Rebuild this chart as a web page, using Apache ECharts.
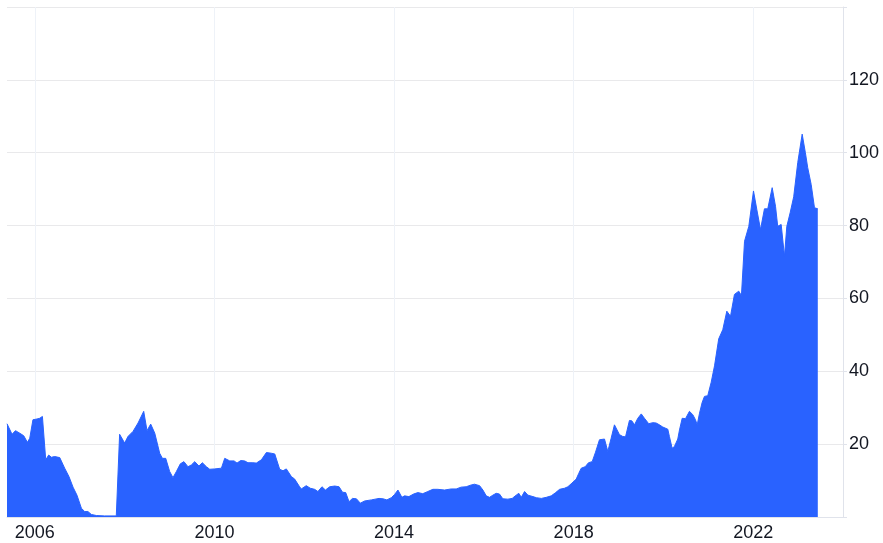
<!DOCTYPE html>
<html>
<head>
<meta charset="utf-8">
<script src="https://cdn.jsdelivr.net/npm/echarts@6/dist/echarts.min.js"></script>
<style>
  html, body { margin: 0; padding: 0; background: #fff; }
  #chart { width: 883px; height: 543px; }
</style>
</head>
<body>
<div id="chart"></div>
<script>
const dates = [
  '2005-05-20', '2005-06-03', '2005-06-30', '2005-07-28', '2005-09-01', '2005-10-03', '2005-11-02', '2005-11-21', '2005-12-17',
  '2006-01-19', '2006-02-10', '2006-03-04', '2006-03-17', '2006-03-31', '2006-04-24', '2006-05-16', '2006-06-12', '2006-07-23',
  '2006-08-05', '2006-09-01', '2006-10-06', '2006-11-08', '2006-12-10',
  '2007-01-15', '2007-02-11', '2007-03-09', '2007-04-06', '2007-05-17', '2007-07-23', '2007-10-26', '2007-11-22', '2007-12-06',
  '2008-01-02', '2008-01-29', '2008-03-10', '2008-04-20', '2008-06-05', '2008-07-02', '2008-08-01', '2008-09-03', '2008-10-13',
  '2008-11-04', '2008-12-01',
  '2009-01-02', '2009-01-29', '2009-02-26', '2009-03-30', '2009-04-28', '2009-05-31', '2009-06-28', '2009-07-25', '2009-08-28',
  '2009-09-25', '2009-10-28', '2009-11-24',
  '2010-01-03', '2010-02-27', '2010-03-26', '2010-05-06', '2010-06-10', '2010-07-04', '2010-08-03', '2010-09-04', '2010-10-01',
  '2010-11-10', '2010-12-08',
  '2011-01-18', '2011-02-28', '2011-04-10', '2011-05-07', '2011-06-16', '2011-07-13', '2011-08-09', '2011-09-19', '2011-10-16',
  '2011-11-25', '2011-12-09',
  '2012-01-18', '2012-02-20', '2012-03-26', '2012-04-22', '2012-05-25', '2012-06-22', '2012-07-27', '2012-09-06', '2012-10-11',
  '2012-11-08', '2012-12-04', '2012-12-31',
  '2013-01-28', '2013-03-01', '2013-04-02', '2013-05-07', '2013-07-01', '2013-09-01', '2013-10-03', '2013-11-04', '2013-12-10',
  '2014-01-06', '2014-02-02', '2014-03-06', '2014-03-28', '2014-05-02', '2014-06-09', '2014-07-14', '2014-08-23', '2014-10-03',
  '2014-11-13', '2014-12-23',
  '2015-02-16', '2015-04-11', '2015-05-22', '2015-07-01', '2015-08-11', '2015-09-21', '2015-10-18', '2015-11-28', '2015-12-25',
  '2016-01-21', '2016-02-17', '2016-03-15', '2016-04-11', '2016-05-08', '2016-06-04', '2016-07-15', '2016-08-19', '2016-09-21',
  '2016-10-12', '2016-11-01', '2016-11-28', '2016-12-25',
  '2017-02-04', '2017-03-04', '2017-04-13', '2017-05-24', '2017-07-03', '2017-08-08', '2017-09-09', '2017-10-19', '2017-11-15',
  '2017-12-18',
  '2018-01-22', '2018-02-12', '2018-03-04', '2018-04-05', '2018-05-02', '2018-06-01', '2018-06-28', '2018-07-30', '2018-09-09',
  '2018-10-06', '2018-11-02', '2018-11-29', '2018-12-13',
  '2019-01-09', '2019-02-05', '2019-02-27', '2019-03-31', '2019-04-19', '2019-05-11', '2019-06-07', '2019-07-05', '2019-07-31',
  '2019-09-04', '2019-10-07', '2019-11-03', '2019-11-30', '2019-12-27',
  '2020-02-06', '2020-02-19', '2020-03-12', '2020-03-30', '2020-04-27', '2020-05-11', '2020-06-02', '2020-06-29', '2020-07-31',
  '2020-08-27', '2020-09-18', '2020-10-02', '2020-10-21', '2020-11-11', '2020-11-30', '2020-12-27',
  '2021-01-24', '2021-02-20', '2021-03-26', '2021-04-28', '2021-05-31', '2021-06-30', '2021-08-01', '2021-09-05', '2021-09-27',
  '2021-10-22', '2021-11-26',
  '2022-01-03', '2022-01-30', '2022-03-01', '2022-04-02', '2022-04-29', '2022-06-04', '2022-07-01', '2022-07-19', '2022-08-16',
  '2022-09-12', '2022-10-01', '2022-10-28', '2022-11-26', '2022-12-29',
  '2023-02-03', '2023-03-01', '2023-03-20', '2023-04-17', '2023-05-14', '2023-06-10'
];

const values = [
  25.6, 25.3, 22.7, 23.7, 23.0, 22.3, 20.5, 21.6, 26.7,
  26.9, 27.1, 27.6, 27.4, 15.7, 17.0, 16.4, 16.6, 16.3,
  15.9, 13.4, 11.1, 8.2, 6.0,
  2.4, 1.5, 1.5, 0.7, 0.4, 0.3, 0.3, 22.7, 22.5,
  20.3, 22.1, 23.5, 25.8, 29.0, 23.7, 25.5, 23.0, 17.5,
  16.1, 16.1,
  12.5, 10.8, 12.5, 14.6, 15.2, 13.8, 14.3, 15.2, 14.0,
  14.9, 13.8, 13.1,
  13.2, 13.4, 16.1, 15.4, 15.4, 14.8, 15.5, 15.4, 14.9,
  14.9, 14.8,
  15.7, 17.7, 17.5, 17.3, 13.1, 12.7, 13.2, 11.1, 10.4,
  8.3, 7.7,
  8.6, 7.9, 7.6, 7.0, 8.3, 7.4, 8.3, 8.5, 8.3,
  6.8, 6.7, 4.2,
  5.1, 5.0, 3.8, 4.4, 4.7, 5.1, 5.0, 4.7, 5.3,
  6.2, 7.4, 5.4, 5.8, 5.6, 6.3, 6.7, 6.4, 7.0,
  7.6, 7.6,
  7.4, 7.7, 7.7, 8.2, 8.3, 8.8, 9.0, 8.6, 7.4,
  5.8, 5.4, 6.0, 6.5, 6.3, 5.0, 4.9, 5.1, 6.0,
  6.5, 5.4, 7.0, 6.0,
  5.6, 5.3, 5.1, 5.4, 5.8, 6.7, 7.6, 7.9, 8.3,
  9.3,
  10.4, 12.0, 13.4, 13.8, 14.9, 15.2, 17.8, 21.2, 21.4,
  18.0, 21.6, 25.3, 25.2,
  22.6, 22.1, 22.0, 26.5, 26.4, 25.3, 27.1, 28.3, 27.1,
  25.6, 25.9, 25.8, 25.3, 24.7,
  24.1, 22.1, 18.9, 19.3, 21.4, 23.9, 27.1, 27.0, 29.0,
  28.1, 26.7, 25.3, 28.5, 31.4, 33.1, 33.3,
  37.0, 41.5, 48.9, 51.4, 56.5, 55.1, 61.1, 62.0, 60.8,
  75.7, 79.8,
  89.5, 84.4, 78.9, 84.6, 84.6, 90.4, 85.3, 79.8, 80.3,
  71.6, 79.8, 83.5, 87.9, 97.3,
  105.1, 100.0, 95.9, 91.3, 84.9, 84.6
];

const yearTicks = ['2006-01-01', '2010-01-01', '2014-01-01', '2018-01-01', '2022-01-01'];
const axisEnd = '2024-01-01';

const toTime = s => new Date(s + 'T00:00:00Z').getTime();
const tickTimes = yearTicks.map(toTime);
const seriesData = dates.map((d, i) => [toTime(d), values[i]]);

const chart = echarts.init(document.getElementById('chart'));

chart.setOption({
    animation: false,
    backgroundColor: '#ffffff',
    grid: { left: 7, right: 40, top: 7, bottom: 26 },
    xAxis: {
        type: 'value',
        min: toTime(dates[0]),
        max: toTime(axisEnd),
        axisLine: { show: true, lineStyle: { color: '#e0e3eb', width: 1 } },
        axisTick: { show: false, customValues: tickTimes },
        axisLabel: {
            customValues: tickTimes,
            formatter: v => String(new Date(v).getUTCFullYear()),
            color: '#131722',
            fontSize: 18,
            fontFamily: 'Liberation Sans, Arial, sans-serif',
            margin: 7
        },
        splitLine: { show: true, lineStyle: { color: '#eef2f8', width: 1 } }
    },
    yAxis: {
        type: 'value',
        position: 'right',
        min: 0,
        max: 140,
        interval: 20,
        axisLine: { show: true, lineStyle: { color: '#e0e3eb', width: 1 } },
        axisTick: { show: true, length: 4, lineStyle: { color: '#e0e3eb' } },
        axisLabel: {
            formatter: v => (v === 0 || v === 140 ? '' : String(v)),
            color: '#131722',
            fontSize: 18,
            fontFamily: 'Liberation Sans, Arial, sans-serif',
            margin: 6
        },
        splitLine: { show: true, lineStyle: { color: '#e9e9eb', width: 1 } }
    },
    series: [{
        type: 'line',
        data: seriesData,
        showSymbol: false,
        smooth: false,
        lineStyle: { color: '#2962ff', width: 1 },
        areaStyle: { color: '#2962ff', opacity: 1 },
        itemStyle: { color: '#2962ff' }
    }]
});
</script>
</body>
</html>
